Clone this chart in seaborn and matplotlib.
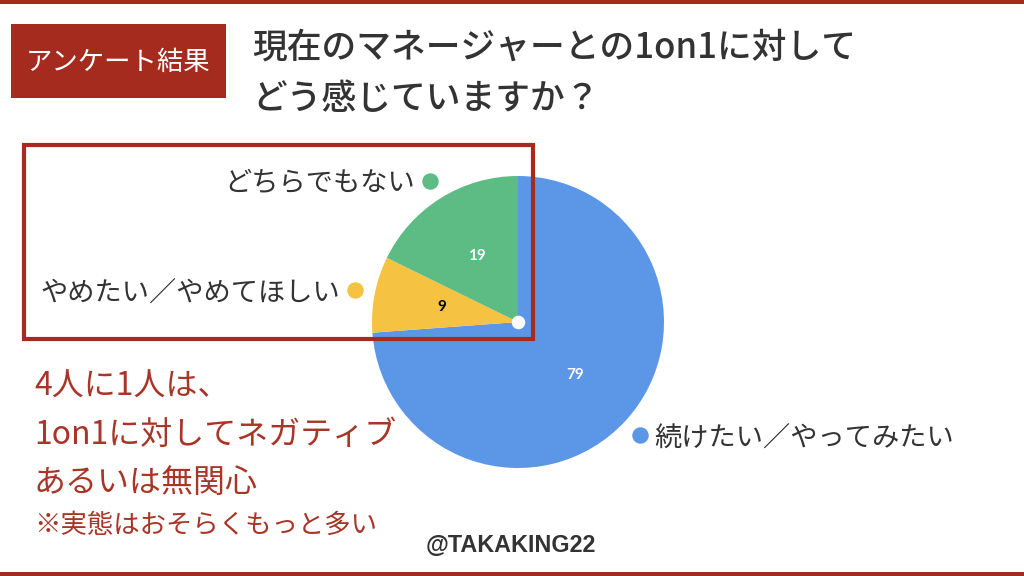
"""
plot.py - 1on1 survey pie chart (アンケート結果)
"""

import numpy as np
import matplotlib.pyplot as plt
import seaborn as sns
from matplotlib.patches import Rectangle

# ── data ──────────────────────────────────────────────────────────────────────
categories   = ["続けたい／やってみたい", "やめたい／やめてほしい", "どちらでもない"]
counts       = [79, 9, 19]
slice_colors = ["#5C96E6", "#F5C242", "#5DBB84"]
value_colors = ["white", "black", "white"]

badge_text  = "アンケート結果"
title_lines = ["現在のマネージャーとの1on1に対して", "どう感じていますか？"]
note_lines  = ["4人に1人は、", "1on1に対してネガティブ", "あるいは無関心"]
note_small  = "※実態はおそらくもっと多い"
credit      = "@TAKAKING22"

RED  = "#A62B1F"
DARK = "#333333"
W, H = 1024, 576

# ── style ─────────────────────────────────────────────────────────────────────
sns.set_theme(style="white")
plt.rcParams["font.family"] = ["Noto Sans CJK JP", "DejaVu Sans"]

fig = plt.figure(figsize=(W / 100, H / 100), dpi=100)

# pie axes: centre (518, 322) px, radius 146 px
cx, cy, r = 518, 322, 146
pax = fig.add_axes([(cx - r) / W, (H - cy - r) / H, 2 * r / W, 2 * r / H], zorder=1)
wedges, _, autotexts = pax.pie(
    counts, colors=slice_colors, startangle=90, counterclock=False,
    autopct=lambda p: f"{p * sum(counts) / 100:.0f}", pctdistance=0.53,
    wedgeprops=dict(linewidth=0),
    textprops=dict(fontsize=11, fontweight="bold", family=["Lato", "DejaVu Sans"]),
)
for t, c in zip(autotexts, value_colors):
    t.set_color(c)
pax.set_xlim(-1, 1); pax.set_ylim(-1, 1)
pax.scatter([0], [0], s=95, color="white", zorder=5, linewidths=0)

# outside labels with coloured dots
for w, lab, col in zip(wedges, categories, slice_colors):
    ang = np.deg2rad((w.theta1 + w.theta2) / 2)
    x, y = 1.14 * np.cos(ang), 1.14 * np.sin(ang)
    pax.scatter([x], [y], s=140, color=col, clip_on=False, zorder=5, linewidths=0)
    right = x > 0
    pax.text(x + (0.1 if right else -0.1), y - 0.02, lab, ha="left" if right else "right",
             va="center", fontsize=19.6, color=DARK, clip_on=False)

# overlay axes in pixel coords (y down)
ax = fig.add_axes([0, 0, 1, 1], zorder=2)
ax.set_xlim(0, W); ax.set_ylim(H, 0)
ax.set_facecolor("none")
ax.axis("off")

# red bands top / bottom
ax.add_patch(Rectangle((0, 0), W, 4, color=RED, lw=0))
ax.add_patch(Rectangle((0, 572), W, 4, color=RED, lw=0))

# badge
ax.add_patch(Rectangle((11, 24), 215, 74, color=RED, lw=0))
ax.text(118.5, 62, badge_text, ha="center", va="center", fontsize=19, color="white")

# title
for i, line in enumerate(title_lines):
    ax.text(252, 48 + 51 * i, line, ha="left", va="center", fontsize=25,
            color=DARK, fontweight="medium")

# highlight frame
ax.add_patch(Rectangle((24, 145), 509, 194, fill=False, edgecolor=RED, lw=3))

# note
for i, line in enumerate(note_lines):
    ax.text(34, 387 + 48 * i, line, ha="left", va="center", fontsize=23, color="#A93526")
ax.text(34, 525, note_small, ha="left", va="center", fontsize=19, color="#A93526")

ax.text(511, 545, credit, ha="center", va="center", fontsize=16.8, color=DARK,
        fontweight="bold", family=["Liberation Sans", "DejaVu Sans"])

fig.savefig("out.png", dpi=100, facecolor="white")
